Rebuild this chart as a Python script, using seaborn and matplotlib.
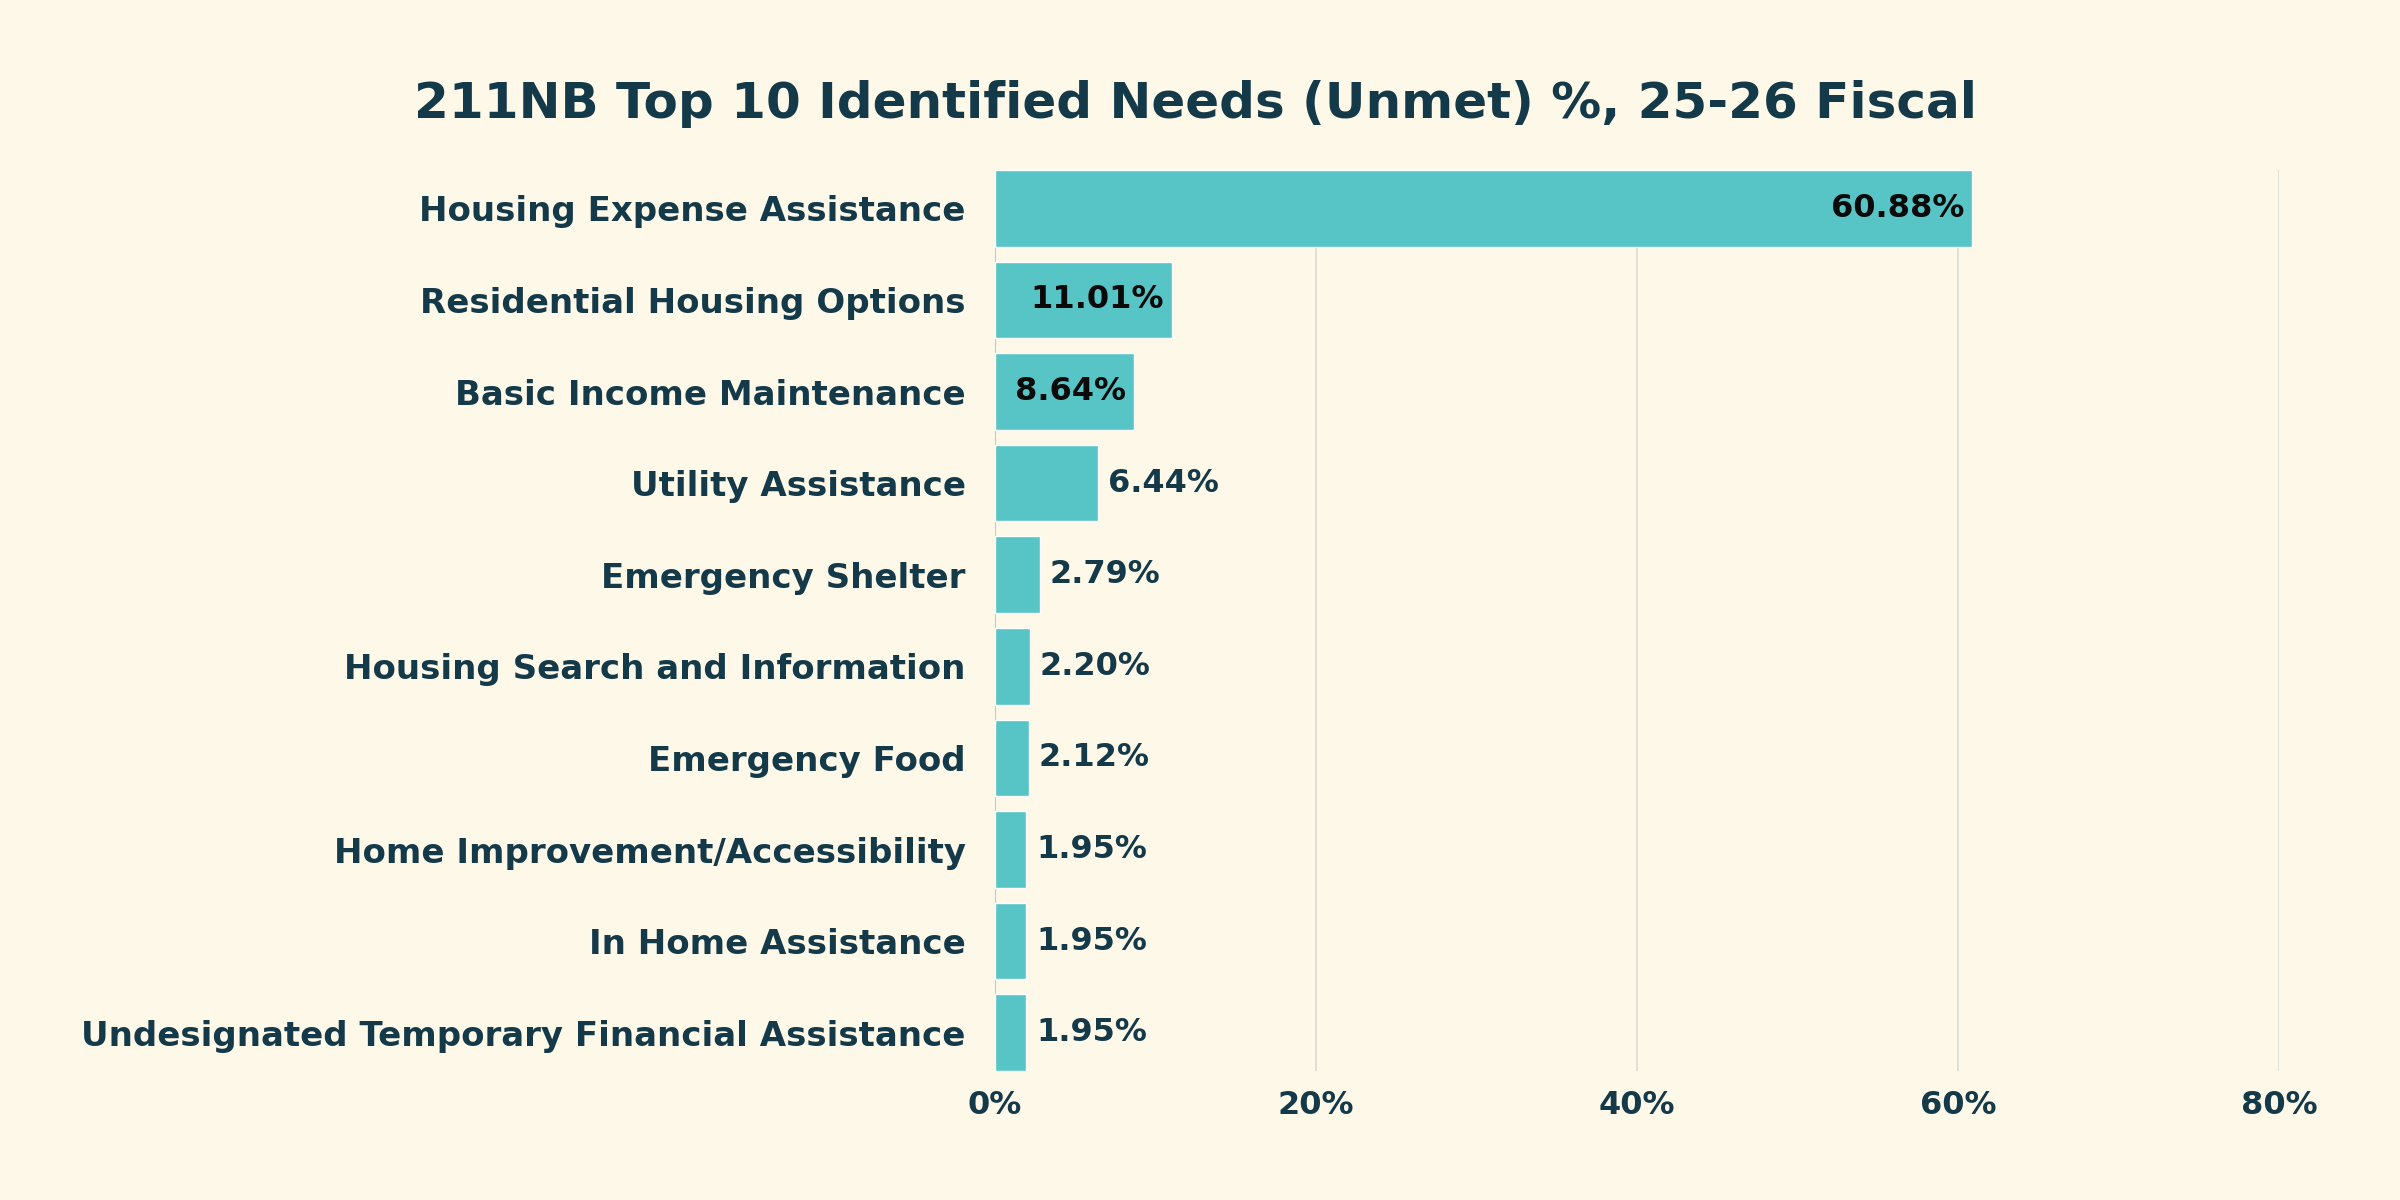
import matplotlib
matplotlib.use("Agg")
import matplotlib.pyplot as plt
import seaborn as sns
import pandas as pd
from matplotlib.ticker import FuncFormatter

categories = [
    "Housing Expense Assistance",
    "Residential Housing Options",
    "Basic Income Maintenance",
    "Utility Assistance",
    "Emergency Shelter",
    "Housing Search and Information",
    "Emergency Food",
    "Home Improvement/Accessibility",
    "In Home Assistance",
    "Undesignated Temporary Financial Assistance",
]
values = [60.88, 11.01, 8.64, 6.44, 2.79, 2.20, 2.12, 1.95, 1.95, 1.95]
x_ticks = [0, 20, 40, 60, 80]
title = "211NB Top 10 Identified Needs (Unmet) %, 25-26 Fiscal"

BG = "#FEF8E9"
BAR = "#57C4C5"
DARK = "#143A4A"
GRID = "#DADAD2"

sns.set_theme(style="white")
plt.rcParams["font.family"] = ["DejaVu Sans"]

df = pd.DataFrame({"need": categories, "pct": values})

fig = plt.figure(figsize=(24, 12), dpi=100, facecolor=BG)
ax = fig.add_axes([0.4146, 0.1075, 0.9496 - 0.4146, 0.8583 - 0.1075])
ax.set_facecolor(BG)

sns.barplot(data=df, x="pct", y="need", orient="h", color=BAR, saturation=1,
            width=0.836, ax=ax, zorder=3)

ax.set_xlim(0, 80)
ax.set_ylim(len(categories) - 1 + 0.418, -0.418)
ax.set_xticks(x_ticks)
ax.xaxis.set_major_formatter(FuncFormatter(lambda v, p: f"{v:.0f}%"))
ax.grid(axis="x", color=GRID, linewidth=1.2, zorder=0)
ax.grid(axis="y", visible=False)
for s in ax.spines.values():
    s.set_visible(False)
ax.axvline(0, color="#C8C8C0", linewidth=1.5, zorder=1)
ax.set_xlabel("")
ax.set_ylabel("")
ax.tick_params(axis="x", length=0, pad=14, labelsize=23, labelcolor=DARK)
ax.tick_params(axis="y", length=0, pad=21, labelsize=24.5, labelcolor=DARK)
for lab in ax.get_xticklabels() + ax.get_yticklabels():
    lab.set_fontweight("bold")

for i, v in enumerate(values):
    txt = f"{v:.2f}%"
    if v >= 8:
        ax.text(v - 0.5, i, txt, ha="right", va="center", fontsize=23,
                fontweight="bold", color="#0A0A0A", zorder=4)
    else:
        ax.text(v + 0.6, i, txt, ha="left", va="center", fontsize=23,
                fontweight="bold", color=DARK, zorder=4)

fig.text(0.498, 0.913, title, ha="center", va="center", fontsize=36,
         fontweight="bold", color=DARK)

fig.savefig("out.png", dpi=100, facecolor=BG)
